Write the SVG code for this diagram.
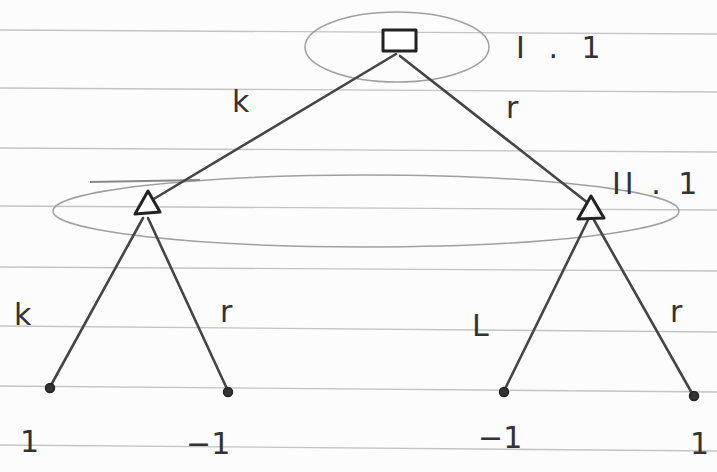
<svg xmlns="http://www.w3.org/2000/svg" width="717" height="472" viewBox="0 0 717 472">
<style>
.paper{stroke:#c4c4c4;stroke-width:1.4;fill:none}
.edge{stroke:#454545;stroke-width:2.6;fill:none;stroke-linecap:round}
.info{stroke:#a0a0a0;stroke-width:1.5;fill:none}
.node{stroke:#222;stroke-width:3;fill:#fff;stroke-linejoin:round}
.leaf{fill:#333;stroke:#222;stroke-width:1.5}
.lbl{font-family:"DejaVu Sans",sans-serif;font-size:30px;fill:#333}
.pl{letter-spacing:7px}
.p2{letter-spacing:4px}
</style>
<rect x="0" y="0" width="717" height="472" fill="#fcfcfc"/>
<g id="paper-lines">
<line class="paper" x1="0" y1="30" x2="717" y2="34"/>
<line class="paper" x1="0" y1="88" x2="717" y2="92"/>
<line class="paper" x1="0" y1="148" x2="717" y2="152"/>
<line class="paper" x1="0" y1="206" x2="717" y2="210"/>
<line class="paper" x1="0" y1="267" x2="717" y2="271"/>
<line class="paper" x1="0" y1="326" x2="717" y2="332"/>
<line class="paper" x1="0" y1="386" x2="717" y2="392"/>
<line class="paper" x1="0" y1="445" x2="717" y2="451"/>
</g>
<g id="info-sets">
<ellipse class="info" cx="397" cy="47" rx="92" ry="35"/>
<ellipse class="info" cx="366" cy="211" rx="313" ry="36"/>
<line x1="90" y1="182" x2="200" y2="180" stroke="#888" stroke-width="1.8"/>
</g>
<g id="connectors">
<line class="edge" x1="396" y1="54" x2="152" y2="200"/>
<line class="edge" x1="400" y1="56" x2="588" y2="203"/>
<line class="edge" x1="143" y1="218" x2="50" y2="387"/>
<line class="edge" x1="148" y1="218" x2="228" y2="391"/>
<line class="edge" x1="588" y1="220" x2="504" y2="391"/>
<line class="edge" x1="594" y1="220" x2="693" y2="395"/>
</g>
<g id="n-root"><rect class="node" x="383" y="30" width="33" height="21"/></g>
<g id="n-II-left"><polygon class="node" points="148,191 135,214 160,212"/></g>
<g id="n-II-right"><polygon class="node" points="591,196 578,219 604,218"/></g>
<g id="leaf-1"><circle class="leaf" cx="50" cy="388" r="4.5"/></g>
<g id="leaf-2"><circle class="leaf" cx="228" cy="392" r="4.5"/></g>
<g id="leaf-3"><circle class="leaf" cx="504" cy="392" r="4.5"/></g>
<g id="leaf-4"><circle class="leaf" cx="694" cy="396" r="4.5"/></g>
<g id="labels">
<text class="lbl pl" x="516" y="58">I . 1</text>
<text class="lbl p2" x="612" y="194">II . 1</text>
<text class="lbl" x="232" y="112">k</text>
<text class="lbl" x="506" y="118">r</text>
<text class="lbl" x="14" y="325">k</text>
<text class="lbl" x="220" y="322">r</text>
<text class="lbl" x="472" y="336">L</text>
<text class="lbl" x="670" y="322">r</text>
<text class="lbl" x="20" y="452">1</text>
<text class="lbl" x="186" y="454">−1</text>
<text class="lbl" x="478" y="448">−1</text>
<text class="lbl" x="690" y="454">1</text>
</g>
</svg>
